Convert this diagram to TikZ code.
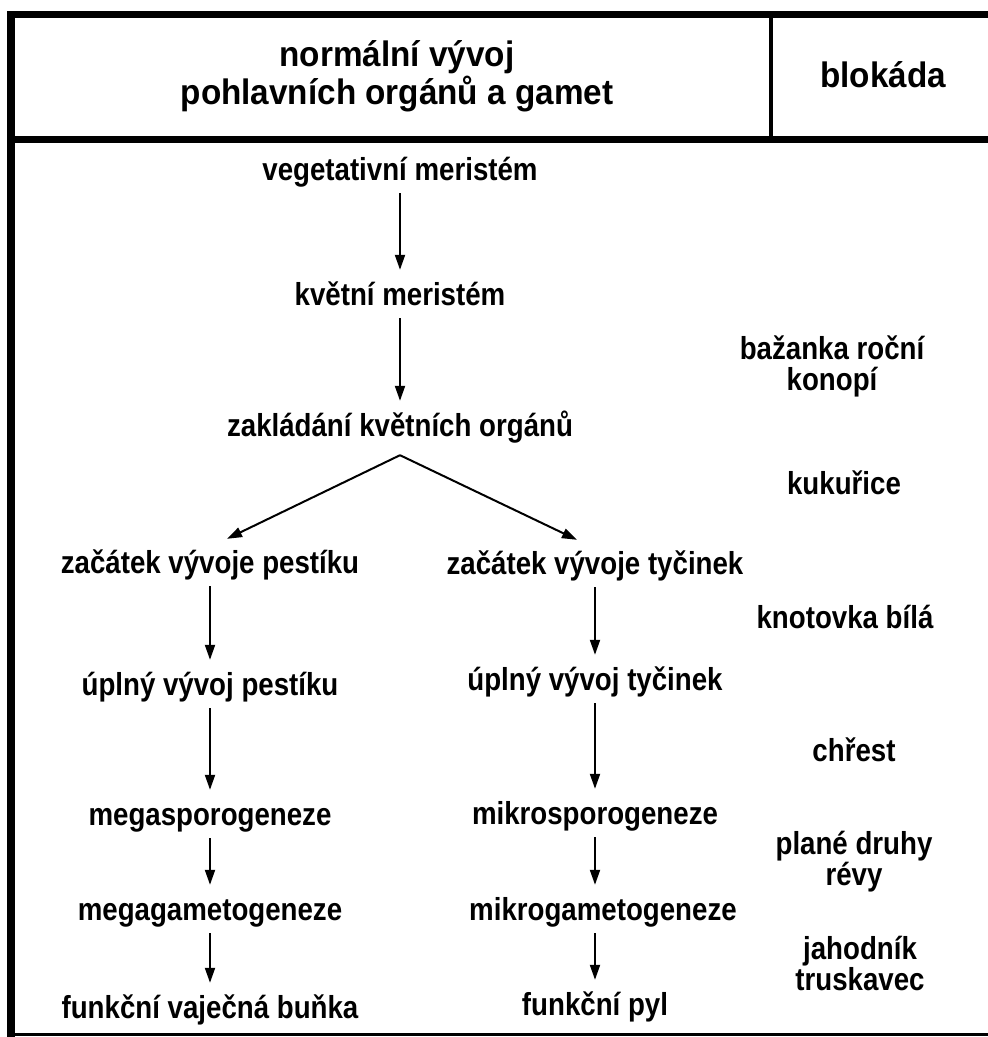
\documentclass[tikz,border=0pt]{standalone}
\usepackage{fontspec}
\setmainfont{Liberation Sans}
\newfontfamily\bodyfont[FakeStretch=0.87]{Liberation Sans}
\newfontfamily\headfont[FakeStretch=0.94]{Liberation Sans}
\usetikzlibrary{arrows.meta}
\tikzset{
	stage/.style={font=\bodyfont\bfseries\fontsize{31.8}{32}\selectfont, inner sep=0pt, text height=23pt, text depth=7pt},
	plant/.style={font=\bodyfont\bfseries\fontsize{31.8}{31}\selectfont, inner sep=0pt, align=center},
	head/.style={font=\headfont\bfseries\fontsize{35.4}{38}\selectfont, inner sep=0pt, align=center},
	arr/.style={line width=2pt, -{Triangle[width=10pt,length=15pt]}, shorten <=6pt, shorten >=12pt},
	frame/.style={line width=7.5pt, line join=miter}
}
\begin{document}
\begin{tikzpicture}[x=1pt, y=-1pt]
	\useasboundingbox (0,0) rectangle (988,1037);
	\draw [frame] (11,1037) -- (11,14.5) -- (988,14.5);
	\draw [frame] (11,139.5) -- (988,139.5);
	\draw [line width=4pt] (771,14.5) -- (771,139.5);
	\draw [line width=3pt] (11,1034) -- (988,1034);

	\node [head] (title) at (397,76) {normální vývoj\\pohlavních orgánů a gamet};
	\node [head] (block) at (883,75) {blokáda};

	\node [stage] (veg) at (400,172) {vegetativní meristém};
	\node [stage] (kvet) at (400,297) {květní meristém};
	\node [stage] (zak) at (400,428) {zakládání květních orgánů};
	\coordinate (split) at ([yshift=-12pt]zak.south);

	\node [stage] (zacP) at (210,565) {začátek vývoje pestíku};
	\node [stage] (upP) at (210,687) {úplný vývoj pestíku};
	\node [stage] (megaS) at (210,817) {megasporogeneze};
	\node [stage] (megaG) at (210,912) {megagametogeneze};
	\node [stage] (vaj) at (210,1010) {funkční vaječná buňka};

	\node [stage] (zacT) at (595,566) {začátek vývoje tyčinek};
	\node [stage] (upT) at (595,682) {úplný vývoj tyčinek};
	\node [stage] (mikroS) at (595,816) {mikrosporogeneze};
	\node [stage] (mikroG) at (603,912) {mikrogametogeneze};
	\node [stage] (pyl) at (595,1007) {funkční pyl};

	\node [plant] (bazanka) at (832,366) {bažanka roční\\konopí};
	\node [plant] (kukurice) at (844,483) {kukuřice};
	\node [plant] (knotovka) at (845,617) {knotovka bílá};
	\node [plant] (chrest) at (854,750) {chřest};
	\node [plant] (reva) at (854,862) {plané druhy\\révy};
	\node [plant] (jahodnik) at (860,963) {jahodník\\truskavec};

	\draw [arr] (veg) -- (kvet);
	\draw [arr] (kvet) -- (zak);
	\draw [arr, shorten <=0pt, shorten >=0pt] (split) -- ([xshift=17pt,yshift=11pt]zacP.north);
	\draw [arr, shorten <=0pt, shorten >=0pt] (split) -- ([xshift=-18pt,yshift=11pt]zacT.north);

	\draw [arr] (zacP) -- (upP);
	\draw [arr] (upP) -- (megaS);
	\draw [arr] (megaS) -- (megaG);
	\draw [arr] (megaG) -- (vaj);

	\draw [arr] (zacT) -- (upT);
	\draw [arr] (upT) -- (mikroS);
	\draw [arr] (mikroS) -- (mikroS |- mikroG.north);
	\draw [arr] (mikroG.south -| pyl) -- (pyl);
\end{tikzpicture}
\end{document}
